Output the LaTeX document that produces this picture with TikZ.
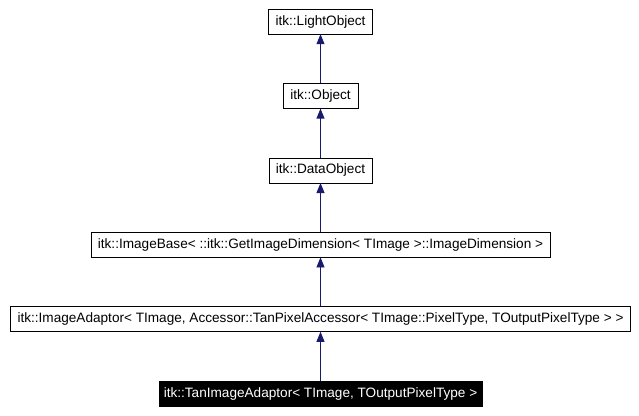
\documentclass[tikz,border=0pt]{standalone}
\usepackage{fontspec}
\setmainfont{Liberation Sans}
\usetikzlibrary{positioning,arrows.meta}
\definecolor{edgeblue}{HTML}{191970}
\tikzset{
  cls/.style={draw,fill=white,minimum height=25pt,inner xsep=7pt,font=\fontsize{13.6}{15}\selectfont},
  clsfocus/.style={cls,fill=black,text=white,inner xsep=5pt},
  inh/.style={edgeblue,line width=.8pt,-{Triangle[length=10pt,width=8pt]}}
}
\begin{document}
\begin{tikzpicture}[x=1pt,y=-1pt,node distance=49pt]
\useasboundingbox (0,0) rectangle (639,415);
\node[clsfocus] (tan) at (320.5,393.5) {itk::TanImageAdaptor< TImage, TOutputPixelType >};
\node[cls,above=of tan] (adaptor) {itk::ImageAdaptor< TImage, Accessor::TanPixelAccessor< TImage::PixelType, TOutputPixelType > >};
\node[cls,above=of adaptor] (base) {itk::ImageBase< ::itk::GetImageDimension< TImage >::ImageDimension >};
\node[cls,above=of base] (data) {itk::DataObject};
\node[cls,above=of data] (obj) {itk::Object};
\node[cls,above=of obj] (light) {itk::LightObject};
\foreach \a/\b in {tan/adaptor,adaptor/base,base/data,data/obj,obj/light}
  \draw[inh] (\a) -- (\b);
\end{tikzpicture}
\end{document}
